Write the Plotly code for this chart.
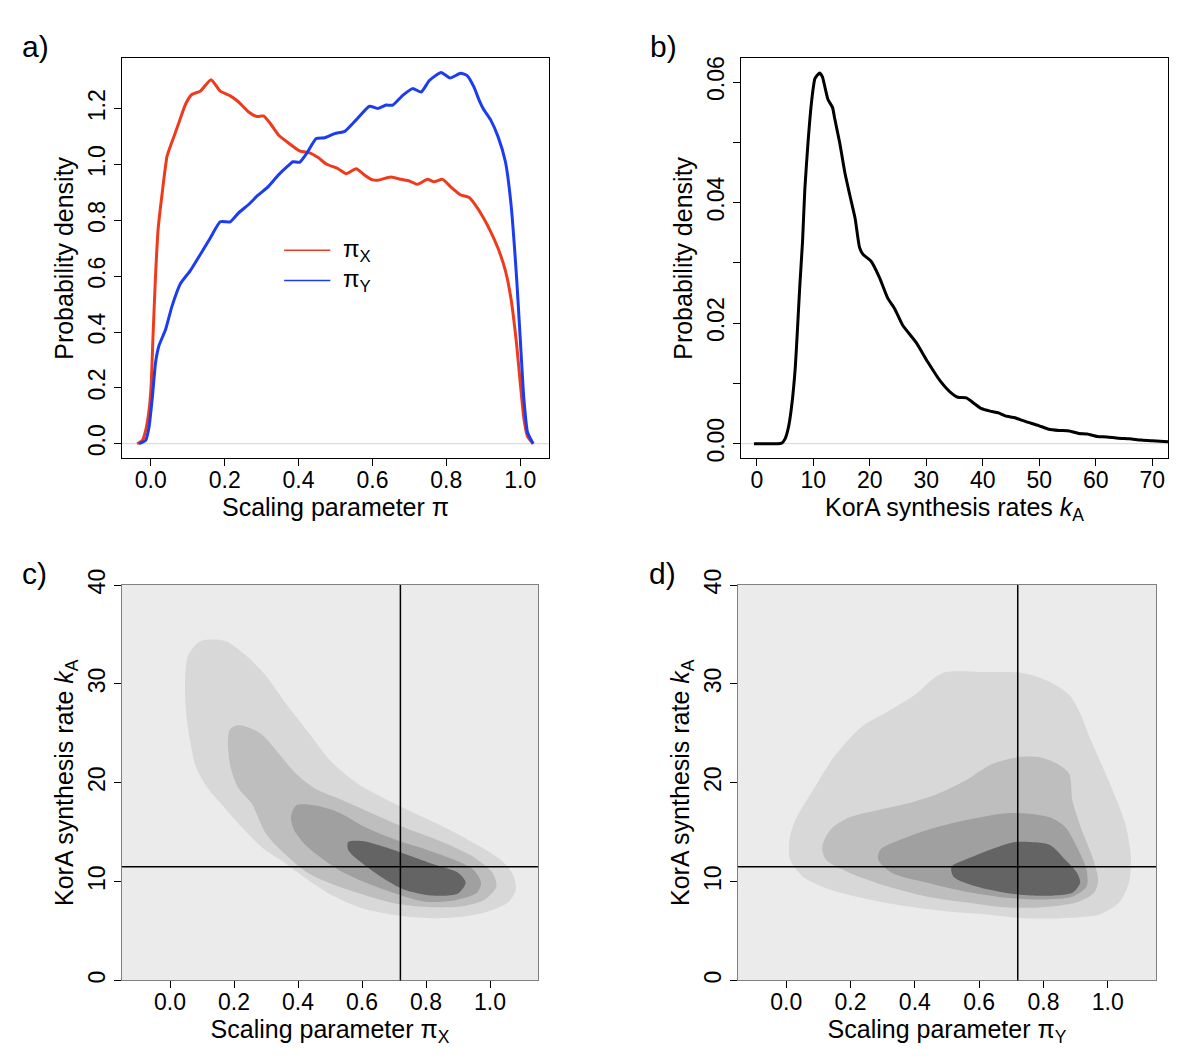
import plotly.graph_objects as go

# ---------------- data ----------------
# Panel a: densities of scaling parameters
pix_x = [-0.037, -0.023, -0.014, -0.005, 0.001, 0.006, 0.013, 0.020, 0.031, 0.044, 0.057, 0.075, 0.094,
         0.111, 0.134, 0.163, 0.188, 0.215, 0.237, 0.264, 0.287, 0.305, 0.323, 0.345, 0.372, 0.404, 0.430,
         0.453, 0.475, 0.507, 0.529, 0.556, 0.579, 0.601, 0.615, 0.650, 0.677, 0.700, 0.722, 0.749, 0.767,
         0.790, 0.812, 0.839, 0.862, 0.884, 0.900, 0.920, 0.940, 0.960, 0.975, 0.990, 1.000, 1.010, 1.020, 1.035]
pix_y = [0.0, 0.012, 0.047, 0.117, 0.21, 0.386, 0.608, 0.772, 0.90, 1.03, 1.08, 1.146, 1.216,
         1.251, 1.263, 1.304, 1.263, 1.246, 1.225, 1.189, 1.172, 1.174, 1.148, 1.107, 1.078, 1.048, 1.042,
         1.025, 1.002, 0.985, 0.967, 0.985, 0.962, 0.945, 0.944, 0.955, 0.947, 0.941, 0.929, 0.947, 0.938,
         0.947, 0.920, 0.891, 0.882, 0.845, 0.81, 0.76, 0.70, 0.62, 0.52, 0.36, 0.22, 0.09, 0.025, 0.0]

piy_x = [-0.032, -0.014, -0.005, 0.004, 0.013, 0.022, 0.040, 0.057, 0.080, 0.107, 0.134, 0.161, 0.188,
         0.215, 0.237, 0.264, 0.291, 0.318, 0.345, 0.372, 0.385, 0.403, 0.421, 0.448, 0.471, 0.498, 0.525,
         0.556, 0.592, 0.614, 0.637, 0.655, 0.682, 0.709, 0.732, 0.754, 0.786, 0.810, 0.839, 0.857, 0.875,
         0.889, 0.900, 0.920, 0.940, 0.960, 0.975, 0.990, 1.000, 1.010, 1.020, 1.035]
piy_y = [0.0, 0.012, 0.058, 0.164, 0.292, 0.351, 0.409, 0.491, 0.573, 0.62, 0.678, 0.737, 0.795,
         0.795, 0.826, 0.856, 0.891, 0.921, 0.962, 0.996, 1.010, 1.008, 1.038, 1.093, 1.096, 1.111, 1.119,
         1.160, 1.209, 1.201, 1.213, 1.213, 1.248, 1.272, 1.260, 1.301, 1.330, 1.310, 1.327, 1.318, 1.277,
         1.230, 1.200, 1.16, 1.10, 1.01, 0.86, 0.60, 0.38, 0.16, 0.04, 0.0]

# Panel b: density of KorA synthesis rate
ka_x = [-0.5, 4.4, 5.0, 5.6, 6.2, 6.8, 7.2, 7.6, 8.1, 8.5, 9.1, 9.7, 10.3, 11.1, 11.6, 12.1, 12.6, 13.4,
        13.8, 14.7, 15.6, 16.5, 17.4, 18.2, 18.8, 20.2, 21.7, 23.2, 24.4, 25.8, 28.2, 30.3, 32.4, 34.2,
        35.6, 37.1, 38.3, 39.8, 41.3, 42.8, 44.0, 45.7, 47.5, 49.9, 51.7, 53.5, 55.3, 57.0, 58.5, 60.3,
        62.0, 64.0, 66.0, 68.0, 70.0, 72.8]
ka_y = [0.0, 0.0001, 0.0008, 0.0027, 0.0065, 0.0125, 0.019, 0.026, 0.0336, 0.0422, 0.0504, 0.0568,
        0.0606, 0.0615, 0.0609, 0.059, 0.0571, 0.0558, 0.0539, 0.0498, 0.0449, 0.0411, 0.0374, 0.0325,
        0.0314, 0.0303, 0.0276, 0.0241, 0.0224, 0.0197, 0.0168, 0.0135, 0.0105, 0.0086, 0.0077, 0.0076,
        0.0068, 0.0058, 0.0054, 0.0051, 0.0046, 0.0043, 0.0037, 0.0030, 0.0024, 0.0022, 0.0021, 0.0017,
        0.0016, 0.0012, 0.0011, 0.0009, 0.0008, 0.0006, 0.0005, 0.0003]

# Panel c: joint density contours (pi_X, k_A), outer to inner
c_lvl1_x = [0.135, 0.177, 0.237, 0.298, 0.358, 0.430, 0.502, 0.587, 0.695, 0.792, 0.888, 0.972, 1.033, 1.069,
            1.081, 1.057, 0.996, 0.924, 0.828, 0.731, 0.611, 0.514, 0.430, 0.358, 0.286, 0.213, 0.159,
            0.117, 0.081, 0.063, 0.051, 0.047, 0.057, 0.093]
c_lvl1_y = [34.5, 34.3, 32.9, 30.9, 28.2, 25.2, 22.2, 19.9, 18.0, 16.5, 15.0, 13.5, 12.2, 10.9,
            9.2, 7.9, 7.0, 6.5, 6.3, 6.5, 7.2, 8.5, 10.2, 11.9, 13.5, 15.9, 17.9,
            19.5, 21.6, 24.2, 26.9, 30.2, 32.9, 34.3]
c_lvl2_x = [0.207, 0.237, 0.286, 0.334, 0.394, 0.454, 0.527, 0.611, 0.731, 0.852, 0.948, 1.008, 1.020, 0.984,
            0.912, 0.816, 0.719, 0.623, 0.527, 0.430, 0.346, 0.299, 0.255, 0.213, 0.189, 0.181, 0.187]
c_lvl2_y = [25.8, 25.7, 24.9, 23.2, 20.9, 19.4, 18.4, 17.2, 15.5, 14.0, 12.5, 10.9, 9.5, 8.2,
            7.5, 7.4, 7.7, 8.5, 9.5, 10.9, 13.2, 14.9, 17.9, 19.5, 21.6, 24.2, 25.4]
c_lvl3_x = [0.394, 0.454, 0.527, 0.611, 0.707, 0.804, 0.888, 0.948, 0.972, 0.960, 0.888, 0.792, 0.695, 0.611,
            0.527, 0.430, 0.388, 0.378]
c_lvl3_y = [17.7, 17.7, 17.0, 15.5, 14.2, 13.2, 12.2, 11.2, 9.9, 8.9, 8.1, 8.0, 8.9, 9.9,
            11.2, 13.5, 15.2, 16.5]
c_lvl4_x = [0.557, 0.599, 0.671, 0.743, 0.828, 0.900, 0.924, 0.900, 0.816, 0.731, 0.659, 0.599, 0.557]
c_lvl4_y = [14.0, 14.1, 13.5, 12.7, 11.7, 10.9, 9.9, 8.8, 8.6, 9.2, 10.5, 11.9, 13.2]

# Panel d: joint density contours (pi_Y, k_A), outer to inner
d_lvl1_x = [0.496, 0.616, 0.736, 0.820, 0.880, 0.916, 0.940, 0.976, 1.012, 1.054, 1.072, 1.066, 1.036, 0.976,
            0.856, 0.736, 0.616, 0.496, 0.376, 0.256, 0.136, 0.052, 0.012, 0.010, 0.028, 0.088, 0.148,
            0.232, 0.316, 0.400, 0.460]
d_lvl1_y = [31.2, 31.2, 31.1, 30.2, 28.9, 26.9, 24.9, 22.2, 19.5, 15.9, 12.5, 9.9, 7.9, 6.7,
            6.3, 6.3, 6.7, 7.0, 7.5, 8.2, 9.2, 10.5, 12.2, 14.2, 16.2, 19.5, 22.6,
            25.6, 27.2, 28.9, 30.6]
d_lvl2_x = [0.724, 0.784, 0.844, 0.880, 0.890, 0.916, 0.952, 0.970, 0.958, 0.904, 0.796, 0.676, 0.556, 0.436,
            0.316, 0.196, 0.124, 0.112, 0.136, 0.196, 0.280, 0.376, 0.472, 0.556, 0.640]
d_lvl2_y = [22.6, 22.6, 21.9, 20.9, 18.2, 15.5, 12.5, 10.2, 8.9, 7.9, 7.4, 7.4, 7.9, 8.5,
            9.5, 10.9, 12.2, 13.5, 15.2, 16.5, 17.2, 17.9, 18.9, 20.2, 21.9]
d_lvl3_x = [0.676, 0.748, 0.820, 0.868, 0.904, 0.934, 0.934, 0.892, 0.796, 0.676, 0.556, 0.436, 0.328, 0.286,
            0.292, 0.352, 0.436, 0.556]
d_lvl3_y = [16.9, 16.9, 16.5, 15.5, 13.5, 11.2, 9.5, 8.5, 8.2, 8.4, 9.0, 9.9, 10.9, 12.2,
            13.2, 14.2, 15.2, 16.2]
d_lvl4_x = [0.712, 0.760, 0.820, 0.868, 0.904, 0.914, 0.892, 0.832, 0.760, 0.676, 0.592, 0.520, 0.514, 0.556,
            0.616, 0.676]
d_lvl4_y = [14.0, 14.0, 13.7, 12.2, 10.9, 9.9, 8.9, 8.6, 8.6, 8.9, 9.5, 10.5, 11.5, 12.2,
            13.0, 13.7]

# reference (posterior mode) lines in c/d
ref_pi = 0.72
ref_ka = 11.5

# tick values / labels
ticks_pi = [0.0, 0.2, 0.4, 0.6, 0.8, 1.0]
ticks_pi_text = ["0.0", "0.2", "0.4", "0.6", "0.8", "1.0"]
ticks_dens_a = [0.0, 0.2, 0.4, 0.6, 0.8, 1.0, 1.2]
ticks_dens_a_text = ["0.0", "0.2", "0.4", "0.6", "0.8", "1.0", "1.2"]
ticks_ka = [0, 10, 20, 30, 40, 50, 60, 70]
ticks_dens_b = [0.0, 0.01, 0.02, 0.03, 0.04, 0.05, 0.06]
ticks_dens_b_text = ["0.00", "", "0.02", "", "0.04", "", "0.06"]
ticks_ka_c = [0, 10, 20, 30, 40]

# ---------------- styling ----------------
W, H = 1200, 1060
FONT = "Liberation Sans, Arial, Helvetica, sans-serif"
RED = "#EE3B1E"
BLUE = "#1C3CF0"
BG_CD = "#EBEBEB"
LEVEL_COLS = ["#D8D8D8", "#BEBEBE", "#A0A0A0", "#646464"]

boxes = {  # left, right, top, bottom in pixels
    "a": (122, 549, 43, 451),
    "b": (741, 1168, 43, 451),
    "c": (122, 538, 580, 983),
    "d": (738, 1156, 580, 983),
}


def xdom(k):
    l, r, t, b = boxes[k]
    return [l / W, r / W]


def ydom(k):
    l, r, t, b = boxes[k]
    return [1 - b / H, 1 - t / H]


fig = go.Figure()

# panel a
fig.add_trace(go.Scatter(x=pix_x, y=pix_y, mode="lines",
                         line=dict(color=RED, width=3, shape="spline", smoothing=0.5),
                         xaxis="x", yaxis="y", showlegend=False, hoverinfo="skip"))
fig.add_trace(go.Scatter(x=piy_x, y=piy_y, mode="lines",
                         line=dict(color=BLUE, width=3, shape="spline", smoothing=0.5),
                         xaxis="x", yaxis="y", showlegend=False, hoverinfo="skip"))
# panel b
fig.add_trace(go.Scatter(x=ka_x, y=ka_y, mode="lines",
                         line=dict(color="black", width=3, shape="spline", smoothing=0.5),
                         xaxis="x2", yaxis="y2", showlegend=False, hoverinfo="skip"))

# panels c, d contours
for xs_list, ys_list, xa, ya in [
    ([c_lvl1_x, c_lvl2_x, c_lvl3_x, c_lvl4_x], [c_lvl1_y, c_lvl2_y, c_lvl3_y, c_lvl4_y], "x3", "y3"),
    ([d_lvl1_x, d_lvl2_x, d_lvl3_x, d_lvl4_x], [d_lvl1_y, d_lvl2_y, d_lvl3_y, d_lvl4_y], "x4", "y4"),
]:
    for xs, ys, col in zip(xs_list, ys_list, LEVEL_COLS):
        fig.add_trace(go.Scatter(x=xs + [xs[0]], y=ys + [ys[0]], mode="lines", fill="toself",
                                 fillcolor=col, line=dict(color=col, width=0, shape="spline", smoothing=0.8),
                                 xaxis=xa, yaxis=ya, showlegend=False, hoverinfo="skip"))

tickfont = dict(family=FONT, size=23, color="black")
titlefont = dict(family=FONT, size=25, color="black")


def xaxis(k, rng, tv, tt, title, anchor, linecol="black"):
    return dict(domain=xdom(k), range=rng, anchor=anchor, tickvals=tv, ticktext=tt,
                ticks="outside", ticklen=7, tickwidth=1, tickcolor="black",
                ticklabelstandoff=-6,
                showline=True, linecolor=linecol, linewidth=1, mirror=True,
                showgrid=False, zeroline=False, tickfont=tickfont,
                title=dict(text=title, font=titlefont, standoff=4))


def yaxis(k, rng, tv, tt, title, anchor, linecol="black"):
    return dict(domain=ydom(k), range=rng, anchor=anchor, tickvals=tv, ticktext=tt,
                ticks="outside", ticklen=7, tickwidth=1, tickcolor="black", tickangle=-90,
                showline=True, linecolor=linecol, linewidth=1, mirror=True,
                showgrid=False, zeroline=False, tickfont=tickfont,
                title=dict(text=title, font=titlefont, standoff=3))


fig.update_layout(
    width=W, height=H, margin=dict(l=0, r=0, t=0, b=0),
    paper_bgcolor="white", plot_bgcolor="rgba(0,0,0,0)",
    font=dict(family=FONT, color="black"),
    xaxis=xaxis("a", [-0.078, 1.078], ticks_pi, ticks_pi_text, "Scaling parameter π", "y"),
    yaxis=yaxis("a", [-0.053, 1.381], ticks_dens_a, ticks_dens_a_text, "Probability density", "x"),
    xaxis2=xaxis("b", [-2.8, 72.8], ticks_ka, [str(v) for v in ticks_ka],
                 "KorA synthesis rates <i>k</i><sub>A</sub>", "y2"),
    yaxis2=yaxis("b", [-0.00246, 0.06396], ticks_dens_b, ticks_dens_b_text, "Probability density", "x2"),
    xaxis3=xaxis("c", [-0.15, 1.15], ticks_pi, ticks_pi_text, "Scaling parameter π<sub>X</sub>", "y3", "#808080"),
    yaxis3=yaxis("c", [0, 40], ticks_ka_c, [str(v) for v in ticks_ka_c],
                 "KorA synthesis rate <i>k</i><sub>A</sub>", "x3", "#808080"),
    xaxis4=xaxis("d", [-0.15, 1.15], ticks_pi, ticks_pi_text, "Scaling parameter π<sub>Y</sub>", "y4", "#808080"),
    yaxis4=yaxis("d", [0, 40], ticks_ka_c, [str(v) for v in ticks_ka_c],
                 "KorA synthesis rate <i>k</i><sub>A</sub>", "x4", "#808080"),
)

shapes = []
# grey backgrounds for c, d
for xr, yr in [("x3", "y3"), ("x4", "y4")]:
    shapes.append(dict(type="rect", xref=f"{xr} domain", yref=f"{yr} domain", x0=0, x1=1, y0=0, y1=1,
                       fillcolor=BG_CD, line=dict(width=0), layer="below"))
# zero lines in a, b
for xr, yr in [("x", "y"), ("x2", "y2")]:
    shapes.append(dict(type="line", xref=f"{xr} domain", yref=yr, x0=0, x1=1, y0=0, y1=0,
                       line=dict(color="#D4D4D4", width=1), layer="below"))
# reference lines in c, d
for xr, yr in [("x3", "y3"), ("x4", "y4")]:
    shapes.append(dict(type="line", xref=xr, yref=f"{yr} domain", x0=ref_pi, x1=ref_pi, y0=0, y1=1,
                       line=dict(color="black", width=1.5)))
    shapes.append(dict(type="line", xref=f"{xr} domain", yref=yr, x0=0, x1=1, y0=ref_ka, y1=ref_ka,
                       line=dict(color="black", width=1.5)))
# legend lines in panel a
shapes.append(dict(type="line", xref="x", yref="y", x0=0.361, x1=0.486, y0=0.693, y1=0.693,
                   line=dict(color=RED, width=1.5)))
shapes.append(dict(type="line", xref="x", yref="y", x0=0.361, x1=0.486, y0=0.585, y1=0.585,
                   line=dict(color=BLUE, width=1.5)))

annotations = [
    dict(text="π<sub>X</sub>", xref="x", yref="y", x=0.515, y=0.693, xanchor="left", yanchor="middle",
         showarrow=False, font=dict(family=FONT, size=24, color="black")),
    dict(text="π<sub>Y</sub>", xref="x", yref="y", x=0.515, y=0.585, xanchor="left", yanchor="middle",
         showarrow=False, font=dict(family=FONT, size=24, color="black")),
]
for lab, px, py in [("a)", 35, 31), ("b)", 663, 31), ("c)", 34, 568), ("d)", 662, 568)]:
    annotations.append(dict(text=lab, xref="paper", yref="paper", x=px / W, y=1 - py / H,
                            xanchor="center", yanchor="middle", showarrow=False,
                            font=dict(family=FONT, size=30, color="black")))

fig.update_layout(shapes=shapes, annotations=annotations)

fig.write_html("out.html", config={"displayModeBar": False},
               post_script="document.body.style.margin='0';")
